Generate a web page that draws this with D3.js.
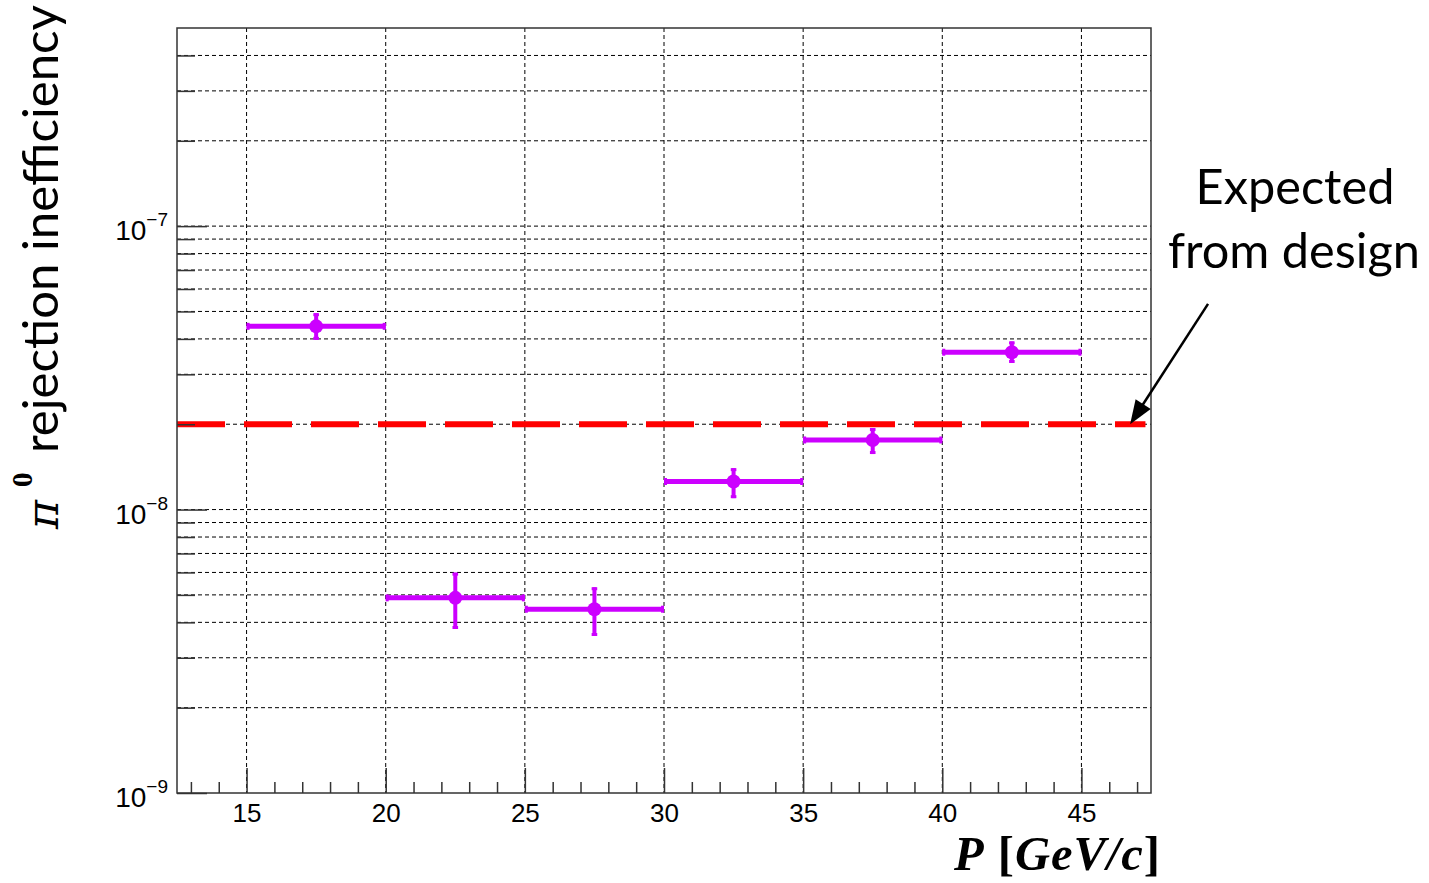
<!DOCTYPE html>
<html><head><meta charset="utf-8">
<script src="https://cdn.jsdelivr.net/npm/d3@7"></script>
<style>body{margin:0;background:#fff}</style>
</head><body>
<svg id="c" width="1429" height="883" xmlns="http://www.w3.org/2000/svg"></svg>
<script>
// ---- data ----
const binLow    = [15, 20, 25, 30, 35, 40];
const binHigh   = [20, 25, 30, 35, 40, 45];
const binCenter = [17.5, 22.5, 27.5, 32.5, 37.5, 42.5];
const ineff     = [4.43e-8, 4.88e-9, 4.45e-9, 1.256e-8, 1.76e-8, 3.59e-8];
const errUp     = [4.93e-8, 5.99e-9, 5.32e-9, 1.40e-8, 1.94e-8, 3.92e-8];
const errDown   = [3.97e-8, 3.79e-9, 3.58e-9, 1.097e-8, 1.57e-8, 3.29e-8];
const designValue = 2e-8;
const designRange = [12.5, 47.3];
const xMajorTicks = [15, 20, 25, 30, 35, 40, 45];
const xMinorTicks = [13,14,16,17,18,19,21,22,23,24,26,27,28,29,31,32,33,34,36,37,38,39,41,42,43,44,46,47];
const yMajorExps  = [-9, -8, -7];
const yMinorMult  = [2, 3, 4, 5, 6, 7, 8, 9];
const xDomain = [12.5, 47.5];
const yDomain = [1e-9, 5e-7];
const xTitleParts = [["P", "italic"], [" [", "normal"], ["GeV/c", "italic"], ["]", "normal"]];
const yTitle = "rejection inefficiency";
const annotationLines = ["Expected", "from design"];
const arrowTail = [49.55, 5.32e-8];
const arrowTip  = [46.75, designValue];

// ---- layout ----
const L = 177, R = 1151, T = 28, B = 793;
const purple = "#cc00ff";
const svg = d3.select("#c");
const x = d3.scaleLinear().domain(xDomain).range([L, R]);
const y = d3.scaleLog().domain(yDomain).range([B, T]);

const yMajorTicks = yMajorExps.map(e => Math.pow(10, e));
const yMinorTicks = [];
yMajorExps.forEach(e => yMinorMult.forEach(m => { const v = m * Math.pow(10, e); if (v < yDomain[1] * 0.999) yMinorTicks.push(v); }));

// grid
const grid = svg.append("g").attr("stroke", "#000").attr("stroke-width", 1).attr("stroke-dasharray", "4,3").attr("fill", "none");
grid.selectAll("line.gx").data(xMajorTicks).join("line")
  .attr("x1", d => x(d)).attr("x2", d => x(d)).attr("y1", T).attr("y2", B);
grid.selectAll("line.gy").data(yMajorTicks.concat(yMinorTicks).filter(v => v > yDomain[0])).join("line")
  .attr("x1", L).attr("x2", R).attr("y1", d => y(d)).attr("y2", d => y(d));

// data
const data = binCenter.map((c, i) => ({c, lo: binLow[i], hi: binHigh[i], v: ineff[i], up: errUp[i], dn: errDown[i]}));
const dg = svg.append("g").attr("stroke", purple).attr("fill", purple);
dg.selectAll("line.h").data(data).join("line")
  .attr("x1", d => x(d.lo)).attr("x2", d => x(d.hi)).attr("y1", d => y(d.v)).attr("y2", d => y(d.v)).attr("stroke-width", 5);
dg.selectAll("line.v").data(data).join("line")
  .attr("x1", d => x(d.c)).attr("x2", d => x(d.c)).attr("y1", d => y(d.up)).attr("y2", d => y(d.dn)).attr("stroke-width", 4);
dg.selectAll("line.hc1").data(data).join("line")
  .attr("x1", d => x(d.lo) + 1.5).attr("x2", d => x(d.lo) + 1.5).attr("y1", d => y(d.v) - 3.5).attr("y2", d => y(d.v) + 3.5).attr("stroke-width", 3);
dg.selectAll("line.hc2").data(data).join("line")
  .attr("x1", d => x(d.hi) - 1.5).attr("x2", d => x(d.hi) - 1.5).attr("y1", d => y(d.v) - 3.5).attr("y2", d => y(d.v) + 3.5).attr("stroke-width", 3);
dg.selectAll("line.vc1").data(data).join("line")
  .attr("x1", d => x(d.c) - 2.8).attr("x2", d => x(d.c) + 2.8).attr("y1", d => y(d.up) + 1.5).attr("y2", d => y(d.up) + 1.5).attr("stroke-width", 3);
dg.selectAll("line.vc2").data(data).join("line")
  .attr("x1", d => x(d.c) - 2.8).attr("x2", d => x(d.c) + 2.8).attr("y1", d => y(d.dn) - 1.5).attr("y2", d => y(d.dn) - 1.5).attr("stroke-width", 3);
dg.selectAll("circle").data(data).join("circle")
  .attr("cx", d => x(d.c)).attr("cy", d => y(d.v)).attr("r", 7).attr("stroke", "none");

// design line
svg.append("line")
  .attr("x1", x(designRange[0])).attr("x2", x(designRange[1]))
  .attr("y1", y(designValue)).attr("y2", y(designValue))
  .attr("stroke", "#ff0000").attr("stroke-width", 6).attr("stroke-dasharray", "48,19");

// axes
const axCol = "#333";
const xAxisMaj = d3.axisBottom(x).tickValues(xMajorTicks).tickSize(-25).tickFormat(d3.format("d")).tickPadding(0);
const gx = svg.append("g").attr("transform", `translate(0,${B})`).call(xAxisMaj);
gx.select(".domain").remove();
gx.selectAll(".tick line").attr("stroke", axCol).attr("stroke-width", 1.5);
gx.selectAll(".tick text").attr("font-family", "Liberation Sans, Arial, sans-serif").attr("font-size", 26).attr("fill", "#000").attr("dy", null).attr("y", 29);
const gxm = svg.append("g").attr("transform", `translate(0,${B})`).call(d3.axisBottom(x).tickValues(xMinorTicks).tickSize(-11).tickFormat(""));
gxm.select(".domain").remove();
gxm.selectAll(".tick line").attr("stroke", axCol).attr("stroke-width", 1.5);

const gy = svg.append("g").attr("transform", `translate(${L},0)`).call(d3.axisLeft(y).tickValues(yMajorTicks).tickSize(-30).tickFormat(""));
gy.select(".domain").remove();
gy.selectAll(".tick line").attr("stroke", axCol).attr("stroke-width", 1.5);
const gym = svg.append("g").attr("transform", `translate(${L},0)`).call(d3.axisLeft(y).tickValues(yMinorTicks).tickSize(-18).tickFormat(""));
gym.select(".domain").remove();
gym.selectAll(".tick line").attr("stroke", axCol).attr("stroke-width", 1.5);

yMajorExps.forEach(e => {
  const t = svg.append("text").attr("x", 168).attr("y", y(Math.pow(10, e)) + 14)
    .attr("text-anchor", "end").attr("font-family", "Liberation Sans, Arial, sans-serif").attr("fill", "#000");
  t.append("tspan").attr("font-size", 28).text("10");
  t.append("tspan").attr("font-size", 19).attr("dy", -14).text("\u2212" + Math.abs(e));
});

svg.append("rect").attr("x", L).attr("y", T).attr("width", R - L).attr("height", B - T)
  .attr("fill", "none").attr("stroke", axCol).attr("stroke-width", 1.5);

function fit(sel, target) {
  const w = sel.node().getComputedTextLength();
  const fs = parseFloat(sel.attr("font-size"));
  sel.attr("font-size", fs * target / w);
}

// x title
const xt = svg.append("text").attr("x", 1161).attr("y", 870).attr("text-anchor", "end")
  .attr("font-family", "Liberation Serif, serif").attr("font-weight", "bold").attr("font-size", 44).attr("fill", "#000")
  .attr("letter-spacing", 1);
xTitleParts.forEach(p => xt.append("tspan").attr("font-style", p[1]).text(p[0]));
fit(xt, 208);

// y title
const ytg = svg.append("text").attr("transform", "translate(58,453) rotate(-90)")
  .attr("font-family", "Lato, sans-serif").attr("font-size", 48).attr("fill", "#000").text(yTitle);
fit(ytg, 448);
svg.append("text").attr("transform", "translate(58,529) rotate(-90)")
  .attr("font-family", "DejaVu Serif, serif").attr("font-style", "italic")
  .attr("font-size", 44).attr("fill", "#000").text("\u03c0");
svg.append("text").attr("transform", "translate(32,487) rotate(-90)")
  .attr("font-family", "Liberation Serif, serif").attr("font-weight", "bold")
  .attr("font-size", 29).attr("fill", "#000").text("0");

// annotation
const a1 = svg.append("text").attr("x", 1295).attr("y", 204).attr("text-anchor", "middle")
  .attr("font-family", "Lato, sans-serif").attr("font-size", 46).attr("fill", "#000").text(annotationLines[0]);
const a2 = svg.append("text").attr("x", 1294).attr("y", 268).attr("text-anchor", "middle")
  .attr("font-family", "Lato, sans-serif").attr("font-size", 46).attr("fill", "#000").text(annotationLines[1]);
fit(a2, 252);
a1.attr("font-size", a2.attr("font-size"));

// arrow
const tx = x(arrowTail[0]), ty = y(arrowTail[1]), hx = x(arrowTip[0]), hy = y(arrowTip[1]);
const dx = hx - tx, dy = hy - ty, len = Math.hypot(dx, dy), ux = dx / len, uy = dy / len;
const headLen = 24, headW = 9;
const bx = hx - ux * headLen, by = hy - uy * headLen;
svg.append("line").attr("x1", tx).attr("y1", ty).attr("x2", bx + ux * 2).attr("y2", by + uy * 2)
  .attr("stroke", "#000").attr("stroke-width", 2.5);
svg.append("path").attr("d", `M${hx},${hy} L${bx - uy * headW},${by + ux * headW} L${bx + uy * headW},${by - ux * headW} Z`)
  .attr("fill", "#000");
</script>
</body></html>
